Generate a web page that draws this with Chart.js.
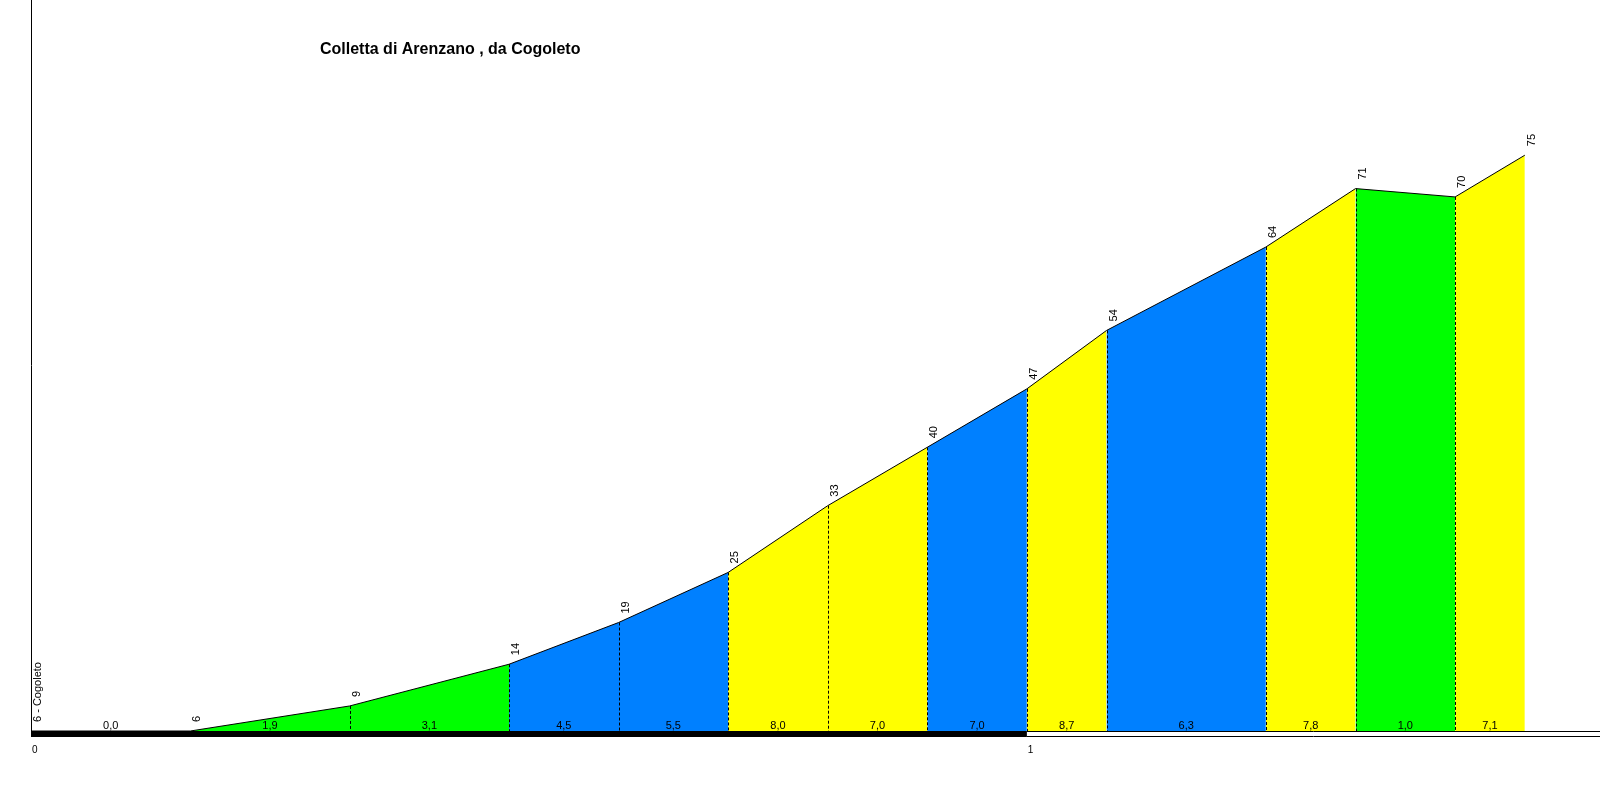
<!DOCTYPE html>
<html>
<head>
<meta charset="utf-8">
<script src="https://cdn.jsdelivr.net/npm/chart.js@4/dist/chart.umd.min.js"></script>
<style>
  body { margin: 0; background: #fff; }
  canvas { display: block; }
</style>
</head>
<body>
<canvas id="chart" width="1600" height="800"></canvas>
<script>
// profile data (km, metres)
const distances = [0, 0.16, 0.32, 0.48, 0.59, 0.70, 0.80, 0.90, 1.00, 1.08, 1.24, 1.33, 1.43, 1.50]
const elevations = [6, 6, 9, 14, 19, 25, 33, 40, 47, 54, 64, 71, 70, 75]
// gradient of each stretch, as printed
const grade_labels = ['0,0', '1,9', '3,1', '4,5', '5,5', '8,0', '7,0', '7,0', '8,7', '6,3', '7,8', '1,0', '7,1']
const grade_class = ['flat', 'easy', 'easy', 'mid', 'mid', 'hard', 'hard', 'mid', 'hard', 'mid', 'hard', 'easy', 'hard']
const x_ticks = [0, 1]
const start_name = '6 - Cogoleto'
const title_text = 'Colletta di Arenzano , da Cogoleto'

const class_colors = {
    flat: '#ffffff',
    easy: '#00ff00',
    mid: '#0080ff',
    hard: '#ffff00'
}

const font_name = "'Liberation Sans', Arial, sans-serif"
const y_min = 6
const y_max = 93.6
const x_max = 1.5755

let points = []
for (let i = 0; i < distances.length; i++) {
    points.push({x: distances[i], y: elevations[i]})
}

// draws the dashed drops, labels, axis bar and title
const profile_extras = {
    id: 'profile_extras',
    afterDatasetsDraw(chart) {
        const ctx = chart.ctx
        const xs = chart.scales.x
        const ys = chart.scales.y
        const base = Math.round(ys.getPixelForValue(y_min))

        ctx.save()

        // dashed verticals at the inner points
        ctx.strokeStyle = '#000'
        ctx.lineWidth = 1
        ctx.setLineDash([3, 2])
        for (let i = 2; i < points.length - 1; i++) {
            const px = Math.round(xs.getPixelForValue(points[i].x)) + 0.5
            const py = ys.getPixelForValue(points[i].y)
            ctx.beginPath()
            ctx.moveTo(px, py)
            ctx.lineTo(px, base)
            ctx.stroke()
        }
        ctx.setLineDash([])

        // gradient numbers under each stretch
        ctx.fillStyle = '#000'
        ctx.font = '11px ' + font_name
        ctx.textAlign = 'center'
        ctx.textBaseline = 'middle'
        for (let i = 0; i < grade_labels.length; i++) {
            const mid = (points[i].x + points[i + 1].x) / 2
            ctx.fillText(grade_labels[i], xs.getPixelForValue(mid), base - 5)
        }

        // elevation labels, turned upright
        for (let i = 0; i < points.length; i++) {
            const px = xs.getPixelForValue(points[i].x)
            const py = ys.getPixelForValue(points[i].y)
            const txt = i == 0 ? start_name : String(elevations[i])
            ctx.save()
            ctx.translate(px + 7, Math.min(py, base) - 9)
            ctx.rotate(-Math.PI / 2)
            ctx.textAlign = 'left'
            ctx.textBaseline = 'middle'
            ctx.fillText(txt, 0, 0)
            ctx.restore()
        }

        // left axis line
        const left = Math.round(xs.getPixelForValue(0)) + 0.5
        ctx.beginPath()
        ctx.moveTo(left, 0)
        ctx.lineTo(left, base)
        ctx.stroke()

        // km bar: black for the full km, outlined after it
        const x0 = xs.getPixelForValue(x_ticks[0])
        const x1 = xs.getPixelForValue(x_ticks[1])
        ctx.fillRect(x0, base, x1 - x0, 6)
        ctx.beginPath()
        ctx.moveTo(x1, base + 0.5)
        ctx.lineTo(chart.width, base + 0.5)
        ctx.moveTo(x1, base + 5.5)
        ctx.lineTo(chart.width, base + 5.5)
        ctx.stroke()

        ctx.font = '10px ' + font_name
        ctx.textAlign = 'left'
        ctx.textBaseline = 'middle'
        x_ticks.forEach(t => {
            ctx.fillText(String(t), xs.getPixelForValue(t) + 1, base + 19)
        })

        // title
        ctx.font = 'bold 16px ' + font_name
        ctx.textBaseline = 'middle'
        ctx.fillText(title_text, 320, 50)

        ctx.restore()
    }
}

const config = {
    type: 'line',
    data: {
        datasets: [{
            data: points,
            borderColor: '#000',
            borderWidth: 1,
            pointRadius: 0,
            tension: 0,
            fill: 'start',
            backgroundColor: '#ffffff',
            segment: {
                backgroundColor: c => class_colors[grade_class[c.p0DataIndex]]
            }
        }]
    },
    options: {
        responsive: false,
        devicePixelRatio: 1,
        animation: false,
        layout: {padding: {left: 31, right: 0, top: 0, bottom: 69}},
        plugins: {
            legend: {display: false},
            tooltip: {enabled: false},
            title: {display: false}
        },
        scales: {
            x: {type: 'linear', min: 0, max: x_max, display: false},
            y: {min: y_min, max: y_max, display: false}
        }
    },
    plugins: [profile_extras]
}

new Chart(document.getElementById('chart'), config)
</script>
</body>
</html>
